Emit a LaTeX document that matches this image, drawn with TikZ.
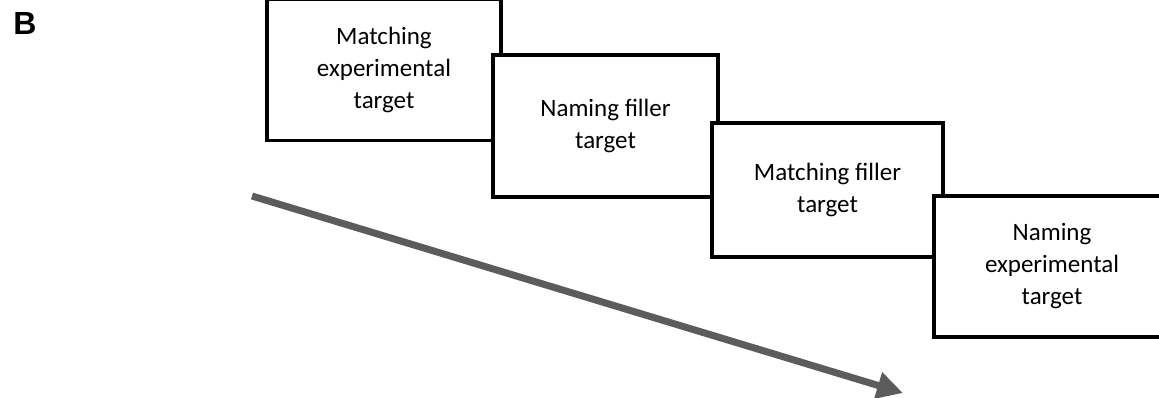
\documentclass[tikz,border=0pt]{standalone}
\usepackage{fontspec}
\setmainfont{Carlito}
\newfontfamily\labelfont{Liberation Sans}
\usepackage{tikz}
\usetikzlibrary{arrows.meta}

\definecolor{arrowgray}{RGB}{92,92,92}

\tikzset{
	trialbox/.style={draw=black, fill=white, line width=3.2pt, rectangle, align=center,
		font=\fontsize{25}{32}\selectfont, inner sep=0pt}
}

\begin{document}
\begin{tikzpicture}[x=1pt, y=-1pt]

\useasboundingbox (0,0) rectangle (1159,397);

\node[font=\labelfont\bfseries\fontsize{32}{34}\selectfont] (panel) at (25,23) {B};

\begin{scope}
	\node[trialbox, minimum width=234pt, minimum height=141pt] (MET) at (384,70) {Matching\\experimental\\target};
	\node[trialbox, minimum width=225pt, minimum height=142pt] (NFT) at (605.5,126) {Naming filler\\target};
	\node[trialbox, minimum width=231pt, minimum height=134pt] (MFT) at (827.5,190) {Matching filler\\target};
	\node[trialbox, minimum width=236pt, minimum height=141pt] (NET) at (1052,266.5) {Naming\\experimental\\target};
\end{scope}

\coordinate (tstart) at (252,196);
\coordinate (tend) at (903,393);

\begin{scope}[>={Triangle[length=26pt,width=26pt]}, every edge/.style={draw=arrowgray,line width=7pt}]

    \path [->] (tstart) edge (tend);

\end{scope}

\end{tikzpicture}
\end{document}
